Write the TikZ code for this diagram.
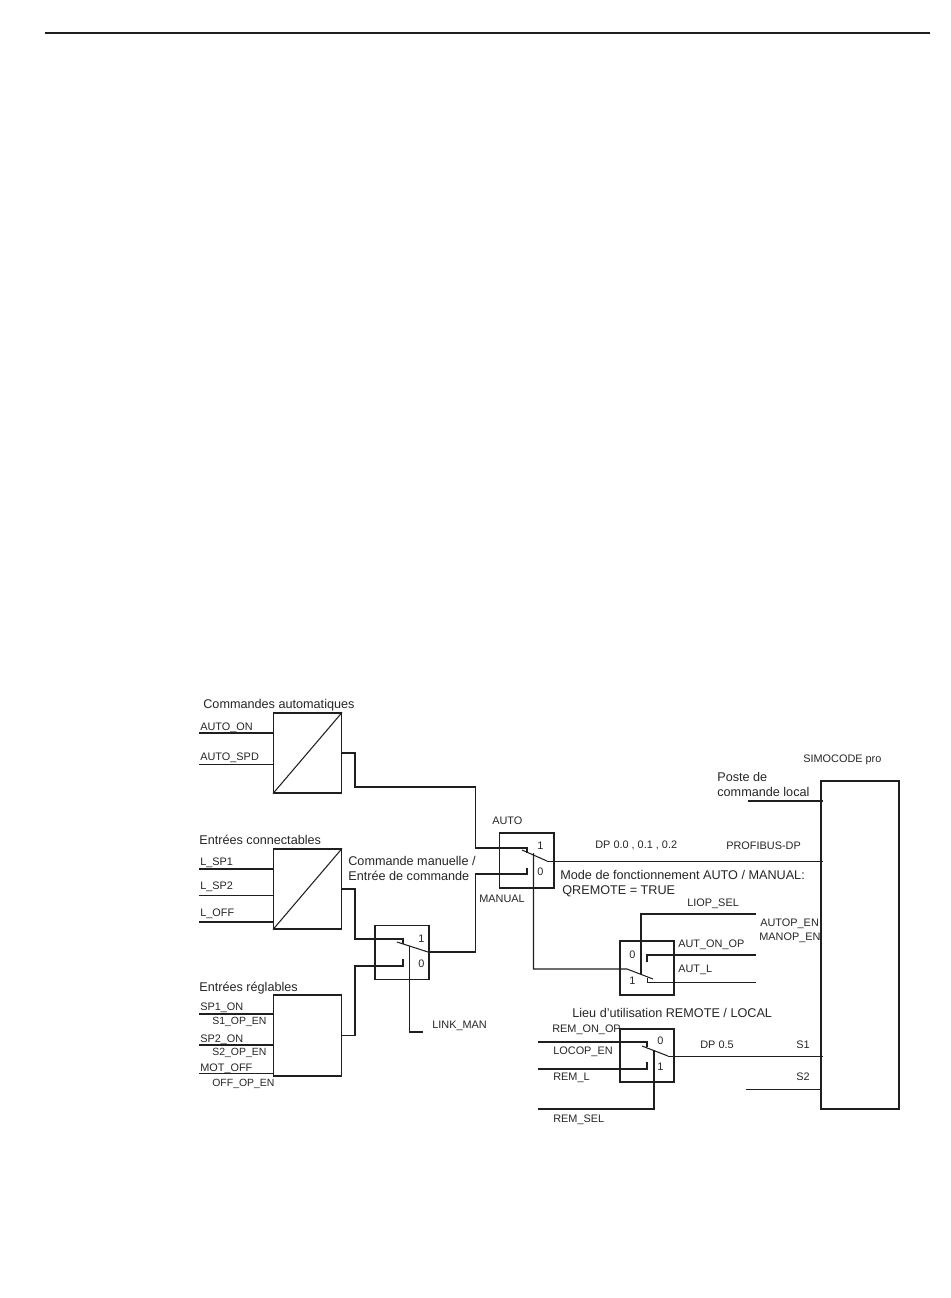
\documentclass[tikz,border=0pt]{standalone}
\usepackage{fontspec}
\setmainfont{Liberation Sans}
\usepackage{tikz}
\usetikzlibrary{calc}

\begin{document}
\begin{tikzpicture}[x=0.02cm, y=-0.02cm,
    ink/.style={draw=black!88},
    wire/.style={ink, line width=0.6pt},
    thinwire/.style={ink, line width=0.4pt},
    blockbox/.style={ink, line width=0.6pt, inner sep=0pt, minimum width=68*0.02cm, minimum height=80*0.02cm},
    switchbox/.style={ink, line width=0.6pt, inner sep=0pt, minimum width=54*0.02cm, minimum height=54*0.02cm},
    lab/.style={anchor=west, inner sep=0pt, text height=4.5pt, text depth=0pt, font=\fontsize{6.2}{7}\selectfont, text=black!85},
    sublab/.style={lab, font=\fontsize{5.95}{7}\selectfont},
    biglab/.style={anchor=west, inner sep=0pt, text height=5pt, text depth=0pt, font=\fontsize{7.2}{8}\selectfont, text=black!85}]
  \useasboundingbox (0,0) rectangle (950,1298);
  \coordinate (ruleL) at (45,33);
  \coordinate (ruleR) at (930,33);
  \draw[wire] (ruleL) -- (ruleR);

  % Input blocks
  \node[blockbox] (autobox) at (307.5,753) {};
  \node[blockbox] (connbox) at (307.5,889) {};
  \node[blockbox, minimum height=81*0.02cm] (regbox) at (307.5,1035.5) {};
  \draw[wire] (autobox.south west) -- (autobox.north east);
  \draw[wire] (connbox.south west) -- (connbox.north east);
  \node[biglab] (autotitle) at (203,704) {Commandes automatiques};
  \node[biglab] (conntitle) at (199,840) {Entrées connectables};
  \node[biglab] (regtitle) at (199,987) {Entrées réglables};

  % Inputs
  \coordinate (autoon) at (199,733);
  \coordinate (autospd) at (199,764);
  \coordinate (lspa) at (199,869);
  \coordinate (lspb) at (199,895);
  \coordinate (loff) at (199,922);
  \coordinate (spaon) at (199,1014);
  \coordinate (spbon) at (199,1045);
  \coordinate (motoff) at (199,1073);
  \draw[wire] (autoon) -- (autobox.west |- autoon);
  \draw[thinwire] (autospd) -- (autobox.west |- autospd);
  \draw[wire] (lspa) -- (connbox.west |- lspa);
  \draw[thinwire] (lspb) -- (connbox.west |- lspb);
  \draw[wire] (loff) -- (connbox.west |- loff);
  \draw[wire] (spaon) -- (regbox.west |- spaon);
  \draw[wire] (spbon) -- (regbox.west |- spbon);
  \draw[thinwire] (motoff) -- (regbox.west |- motoff);
  \node[lab] (autoonlab) at (200,727) {AUTO\_ON};
  \node[lab] (autospdlab) at (200,757) {AUTO\_SPD};
  \node[lab] (lspalab) at (200,862) {L\_SP1};
  \node[lab] (lspblab) at (200,886) {L\_SP2};
  \node[lab] (lofflab) at (200,913) {L\_OFF};
  \node[lab] (spaonlab) at (200,1007) {SP1\_ON};
  \node[sublab] (saoplab) at (212,1021) {S1\_OP\_EN};
  \node[lab] (spbonlab) at (200,1039) {SP2\_ON};
  \node[sublab] (sboplab) at (212,1052) {S2\_OP\_EN};
  \node[lab] (motofflab) at (200,1068) {MOT\_OFF};
  \node[sublab] (offoplab) at (212,1083) {OFF\_OP\_EN};

  % Switch LINK_MAN
  \node[switchbox] (manswitch) at (402,952.5) {};
  \node[lab] (manone) at (418,939) {1};
  \node[lab] (manzero) at (418,964) {0};
  \node[biglab] (manuallab) at (348,861) {Commande manuelle /};
  \node[biglab] (cmdlab) at (348,876) {Entrée de commande};
  \node[lab] (linklab) at (432,1025) {LINK\_MAN};
  \coordinate (manup) at (403,939);
  \coordinate (mandown) at (403,966);
  \coordinate (manleverA) at (397,942);
  \coordinate (manleverB) at (428,952);
  \coordinate (manlink) at (409.5,946);
  \coordinate (linkend) at (423,1032);
  \draw[wire] (connbox.east) -- (355,889) -- (355,939) -- (manup) -- ++(0,5);
  \draw[wire] (regbox.east) -- (355,1035.5) -- (355,966) -- (mandown) -- ++(0,-7);
  \draw[wire] (manleverA) -- (manleverB);
  \draw[wire] (manlink) |- (linkend);

  % Switch AUTO / MANUAL
  \node[switchbox, minimum width=54.5*0.02cm, minimum height=55*0.02cm] (autoswitch) at (526.75,860.5) {};
  \node[lab] (autoone) at (537,846) {1};
  \node[lab] (autozero) at (537,872) {0};
  \node[lab] (autolab) at (492,821) {AUTO};
  \node[lab] (manlab) at (479,899) {MANUAL};
  \node[lab] (dplab) at (595,845) {DP 0.0 , 0.1 , 0.2};
  \node[lab] (proflab) at (726,846) {PROFIBUS-DP};
  \node[biglab] (modelab) at (560,875) {Mode de fonctionnement AUTO / MANUAL:};
  \node[biglab] (qrlab) at (562,890) {QREMOTE = TRUE};
  \coordinate (autoup) at (527,848);
  \coordinate (autodown) at (527,874);
  \coordinate (autoleverA) at (522,850);
  \coordinate (autoleverB) at (547,861);
  \coordinate (autolink) at (533.5,853);
  \draw[wire] (autobox.east) -- (355,753) -- (355,787) -- (475.5,787) -- (475.5,848) -- (autoup) -- ++(0,5);
  \draw[wire] (manleverB) -- (475.5,952) -- (475.5,874) -- (autodown) -- ++(0,-6);
  \draw[wire] (autoleverA) -- (autoleverB);

  % Switch AUT_L
  \node[switchbox] (autlswitch) at (647,968) {};
  \node[lab] (autlzero) at (629,955) {0};
  \node[lab] (autlone) at (629,981) {1};
  \node[lab] (lioplab) at (687,903) {LIOP\_SEL};
  \node[lab] (autoplab) at (760,923) {AUTOP\_EN};
  \node[lab] (manoplab) at (759,937) {MANOP\_EN};
  \node[lab] (autonlab) at (678,944) {AUT\_ON\_OP};
  \node[lab] (autllab) at (678,969) {AUT\_L};
  \coordinate (lioptop) at (756,914);
  \coordinate (liopdown) at (641,974);
  \coordinate (autonend) at (756,955);
  \coordinate (autlend) at (756,982);
  \coordinate (autlleverA) at (627,969);
  \coordinate (autlleverB) at (653,979);
  \draw[wire] (autolink) -- (533.5,969) -- (autlleverA) -- (autlleverB);
  \draw[wire] (liopdown) |- (lioptop);
  \draw[wire] (647,962) -- (647,955) -- (autonend);
  \draw[thinwire] (647,978) -- (647,982) -- (autlend);

  % Switch REMOTE / LOCAL
  \node[switchbox, minimum height=53*0.02cm] (remswitch) at (647,1055.5) {};
  \node[lab] (remzero) at (657,1041) {0};
  \node[lab] (remone) at (657,1067) {1};
  \node[biglab] (lieulab) at (572,1013) {Lieu d'utilisation REMOTE / LOCAL};
  \node[lab] (remonlab) at (552,1029) {REM\_ON\_OP};
  \node[lab] (locoplab) at (553,1051) {LOCOP\_EN};
  \node[lab] (remllab) at (553,1077) {REM\_L};
  \node[lab] (remsellab) at (553,1119) {REM\_SEL};
  \node[lab] (dpbislab) at (700,1045) {DP 0.5};
  \node[lab] (saolab) at (796,1045) {S1};
  \node[lab] (sbolab) at (796,1077) {S2};
  \coordinate (remon) at (538,1042);
  \coordinate (reml) at (538,1069);
  \coordinate (remsel) at (538,1109);
  \coordinate (remleverA) at (642,1046);
  \coordinate (remleverB) at (668,1056);
  \coordinate (remlink) at (654,1050);
  \draw[wire] (remon) -- (647,1042) -- (647,1047);
  \draw[wire] (reml) -- (647,1069) -- (647,1062);
  \draw[wire] (remsel) -| (remlink);
  \draw[wire] (remleverA) -- (remleverB);

  % SIMOCODE pro
  \node[draw=black!88, line width=0.6pt, inner sep=0pt, minimum width=78*0.02cm, minimum height=328*0.02cm] (simobox) at (860,945) {};
  \node[lab] (simolab) at (803,759) {SIMOCODE pro};
  \node[biglab] (postelab) at (717,777) {Poste de};
  \node[biglab] (localbl) at (717,792) {commande local};
  \coordinate (posteend) at (748,801);
  \coordinate (stwoend) at (746,1089);
  \draw[wire] (posteend) -- ($(simobox.west |- posteend)+(3,0)$);
  \draw[thinwire] (autoleverB) -- ($(simobox.west |- autoleverB)+(3,0)$);
  \draw[thinwire] (remleverB) -- ($(simobox.west |- remleverB)+(3,0)$);
  \draw[thinwire] (stwoend) -- (simobox.west |- stwoend);
\end{tikzpicture}
\end{document}
